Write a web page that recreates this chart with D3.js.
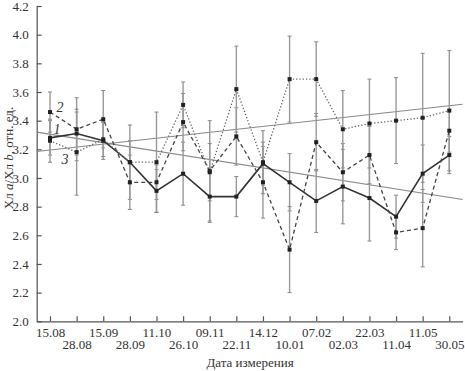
<!DOCTYPE html>
<html>
<head>
<meta charset="utf-8">
<script src="https://cdn.jsdelivr.net/npm/d3@7"></script>
<style>
  body { margin: 0; background: #fff; }
  text { font-family: "Liberation Serif", "Times New Roman", serif; fill: #333; }
</style>
</head>
<body>
<div id="chart"></div>
<script>
const dates = ["15.08", "28.08", "15.09", "28.09", "11.10", "26.10", "09.11", "22.11",
               "14.12", "10.01", "07.02", "02.03", "22.03", "11.04", "11.05", "30.05"];

// series 1 (solid), 2 (dashed), 3 (dotted)
const s1 = [3.28, 3.31, 3.26, 3.11, 2.91, 3.03, 2.87, 2.87, 3.10, 2.97, 2.84, 2.94, 2.86, 2.73, 3.03, 3.16];
const s2 = [3.46, 3.34, 3.41, 2.97, 2.97, 3.39, 3.05, 3.29, 2.97, 2.50, 3.25, 3.04, 3.16, 2.62, 2.65, 3.33];
const s3 = [3.26, 3.18, 3.27, 3.11, 3.11, 3.51, 3.04, 3.62, 3.11, 3.69, 3.69, 3.34, 3.38, 3.40, 3.42, 3.47];

// error half-widths
const e1 = [0.12, 0.15, 0.13, 0.26, 0.15, 0.22, 0.18, 0.14, 0.15, 0.20, 0.22, 0.26, 0.30, 0.15, 0.20, 0.13];
const e2 = [0.14, 0.22, 0.20, 0.19, 0.12, 0.20, 0.35, 0.20, 0.25, 0.30, 0.20, 0.20, 0.20, 0.12, 0.27, 0.15];
const e3 = [0.15, 0.30, 0.12, 0.15, 0.35, 0.16, 0.20, 0.30, 0.22, 0.30, 0.26, 0.27, 0.31, 0.30, 0.45, 0.42];

// trend lines: [value at left edge, value at right edge]
const trendUp = [3.185, 3.515];
const trendDown = [3.32, 2.85];

const yTicks = [2.0, 2.2, 2.4, 2.6, 2.8, 3.0, 3.2, 3.4, 3.6, 3.8, 4.0, 4.2];

const width = 465;
const height = 371;

const x = d3.scaleLinear().domain([-0.5, 15.5]).range([36.7, 462.6]);
const y = d3.scaleLinear().domain([2.0, 4.2]).range([321.3, 6]);

const svg = d3.select("#chart").append("svg")
  .attr("width", width)
  .attr("height", height);

// axes
const yAxis = svg.append("g")
  .attr("transform", `translate(${x(-0.5)},0)`)
  .call(d3.axisLeft(y).tickValues(yTicks).tickFormat(d3.format(".1f"))
    .tickSizeInner(-5).tickSizeOuter(0).tickPadding(8));
yAxis.attr("font-family", null).attr("font-size", null);
yAxis.selectAll("text").style("font-size", "13px");

const xAxis = svg.append("g")
  .attr("transform", `translate(0,${y(2.0)})`)
  .call(d3.axisBottom(x).tickValues(d3.range(dates.length)).tickFormat(i => dates[i])
    .tickSizeInner(-5).tickSizeOuter(0).tickPadding(0));
xAxis.attr("font-family", null).attr("font-size", null);
xAxis.selectAll("text")
  .style("font-size", "13px")
  .attr("dy", null)
  .attr("y", i => i % 2 === 0 ? 16 : 28);

svg.selectAll(".domain, .tick line").attr("stroke", "#555").attr("stroke-width", 1.2);

// trend lines
[trendUp, trendDown].forEach(t => {
  svg.append("line")
    .attr("x1", x(-0.5)).attr("y1", y(t[0]))
    .attr("x2", x(15.5)).attr("y2", y(t[1]))
    .attr("stroke", "#888").attr("stroke-width", 1.1);
});

const series = [
  { vals: s1, err: e1, dash: null, color: "#333", w: 1.6 },
  { vals: s2, err: e2, dash: "4,3", color: "#444", w: 1.3 },
  { vals: s3, err: e3, dash: "1.3,2", color: "#666", w: 1.3 }
];

// error bars
const eb = svg.append("g");
series.forEach(s => {
  s.vals.forEach((v, i) => {
    const cx = x(i);
    const lo = y(v - s.err[i]);
    const hi = y(v + s.err[i]);
    eb.append("line").attr("x1", cx).attr("x2", cx).attr("y1", lo).attr("y2", hi)
      .attr("stroke", "#999").attr("stroke-width", 1.4);
    [lo, hi].forEach(yy => {
      eb.append("line").attr("x1", cx - 2).attr("x2", cx + 2).attr("y1", yy).attr("y2", yy)
        .attr("stroke", "#888").attr("stroke-width", 1);
    });
  });
});

// series lines and markers
const line = d3.line().x((d, i) => x(i)).y(d => y(d));
series.forEach(s => {
  svg.append("path")
    .datum(s.vals)
    .attr("d", line)
    .attr("fill", "none")
    .attr("stroke", s.color)
    .attr("stroke-width", s.w)
    .attr("stroke-dasharray", s.dash);
  svg.append("g").selectAll("rect")
    .data(s.vals)
    .enter()
    .append("rect")
    .attr("x", (d, i) => x(i) - 2)
    .attr("y", d => y(d) - 2)
    .attr("width", 4)
    .attr("height", 4)
    .attr("fill", "#222");
});

// series labels
[["2", 60, 112], ["1", 57, 134], ["3", 65, 164]].forEach(l => {
  svg.append("text")
    .attr("x", l[1]).attr("y", l[2])
    .attr("text-anchor", "middle")
    .style("font-size", "14px").style("font-style", "italic")
    .text(l[0]);
});

// axis titles
svg.append("text")
  .attr("x", 250).attr("y", 367)
  .attr("text-anchor", "middle")
  .style("font-size", "13px")
  .text("Дата измерения");

const yl = svg.append("text")
  .attr("transform", "translate(13,158) rotate(-90)")
  .attr("text-anchor", "middle")
  .style("font-size", "13px");
yl.append("tspan").text("Хл ");
yl.append("tspan").style("font-style", "italic").text("a");
yl.append("tspan").text("/Хл ");
yl.append("tspan").style("font-style", "italic").text("b");
yl.append("tspan").text(", отн. ед.");
</script>
</body>
</html>
